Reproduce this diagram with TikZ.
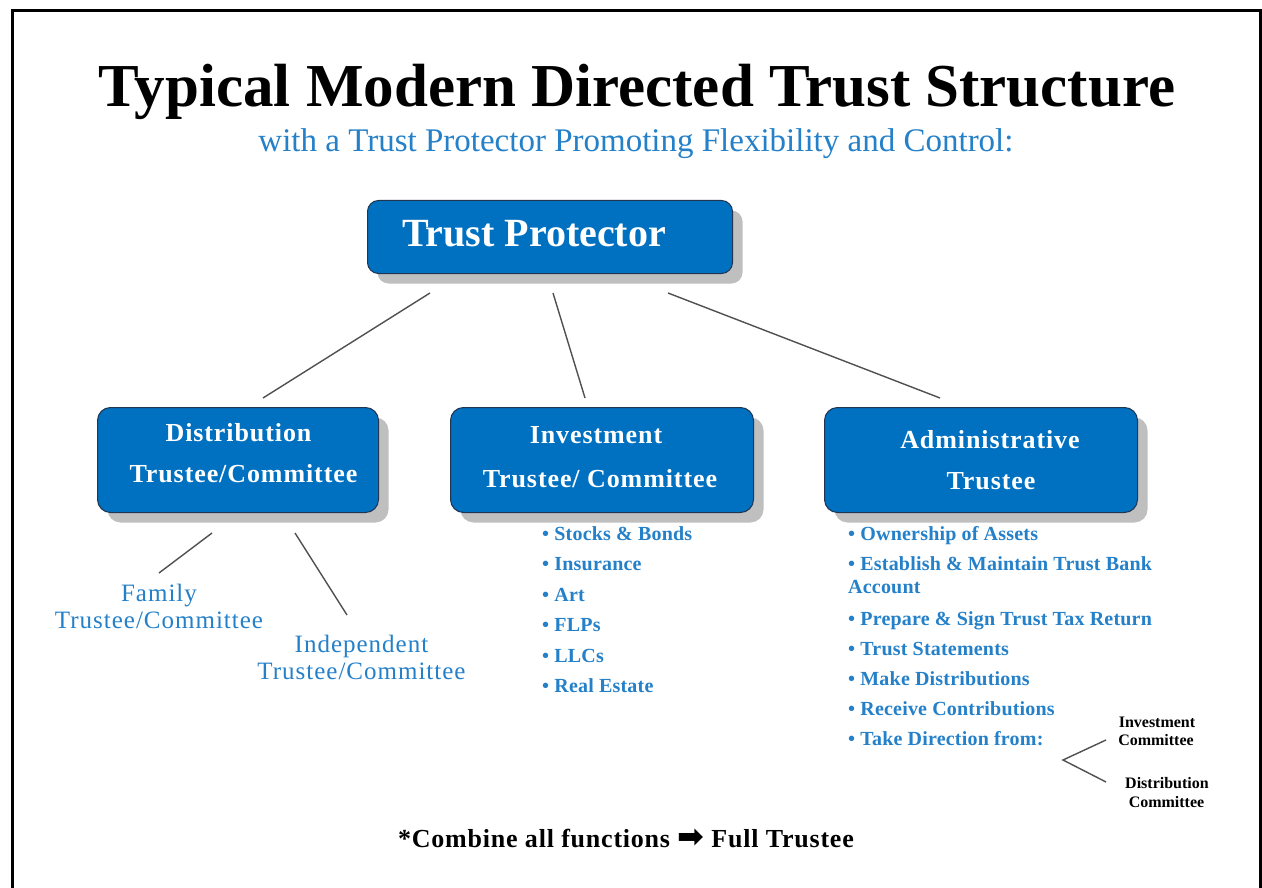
\documentclass[tikz,border=0pt]{standalone}
\usepackage{fontspec}
\setmainfont{Liberation Serif}
\newfontfamily\symfont{DejaVu Sans}
\usetikzlibrary{shadows}
\definecolor{boxblue}{HTML}{0070C0}
\definecolor{boxedge}{HTML}{1F3550}
\definecolor{txtblue}{HTML}{2480C8}
\definecolor{linegray}{HTML}{505050}
\definecolor{shadowgray}{HTML}{BFBFBF}
\tikzset{
  bluebox/.style={draw=boxedge, line width=1pt, fill=boxblue, rounded corners=13pt,
    anchor=north west, inner sep=0pt,
    drop shadow={shadow xshift=10pt, shadow yshift=-10pt, fill=shadowgray, opacity=1}},
  boxtxt/.style={text=white, font=\bfseries\fontsize{26}{26}\selectfont\addfontfeature{LetterSpace=3.5}, anchor=base, inner sep=0pt},
  bul/.style={text=txtblue, font=\bfseries\fontsize{20}{20}\selectfont\addfontfeature{LetterSpace=1}, anchor=base west, inner sep=0pt},
  lab/.style={text=txtblue, font=\fontsize{25}{25}\selectfont\addfontfeature{LetterSpace=4}, anchor=base, inner sep=0pt},
  small/.style={text=black, font=\bfseries\fontsize{16}{16}\selectfont, anchor=base, inner sep=0pt},
  conn/.style={draw=linegray, line width=1.4pt},
}
\begin{document}
\begin{tikzpicture}[x=1pt, y=-1pt]
\useasboundingbox (0,0) rectangle (1262,888);
\fill[white] (0,0) rectangle (1262,888);
% frame
\draw[line width=3pt] (12,888) -- (12,11) -- (1260,11) -- (1260,888);

% titles
\node[anchor=base, inner sep=0pt, font=\bfseries\fontsize{61}{61}\selectfont] (title) at (637,107) {Typical Modern Directed Trust Structure};
\node[anchor=base, inner sep=0pt, text=txtblue, font=\fontsize{33}{33}\selectfont] (subtitle) at (636,152) {with a Trust Protector Promoting Flexibility and Control:};

% boxes
\node[bluebox, rounded corners=11pt, minimum width=365pt, minimum height=73pt] (tp) at (367,200) {};
\node[text=white, font=\bfseries\fontsize{40}{40}\selectfont, anchor=base, inner sep=0pt] (tptxt) at (534,247) {Trust Protector};

\node[bluebox, minimum width=281pt, minimum height=105pt] (dist) at (97,407) {};
\node[boxtxt] (dist1) at (238.5,441) {Distribution};
\node[boxtxt] (dist2) at (243.5,482) {Trustee/Committee};

\node[bluebox, minimum width=303pt, minimum height=105pt] (inv) at (450,407) {};
\node[boxtxt] (inv1) at (596,443) {Investment};
\node[boxtxt] (inv2) at (600,487) {Trustee/ Committee};

\node[bluebox, minimum width=313pt, minimum height=105pt] (adm) at (824,407) {};
\node[boxtxt] (adm1) at (990,448) {Administrative};
\node[boxtxt] (adm2) at (991,489) {Trustee};

% connectors from trust protector
\coordinate (tpa) at (430,293);
\coordinate (tpb) at (553,293);
\coordinate (tpc) at (668,293);
\coordinate (da) at (263,398);
\coordinate (ia) at (585,398);
\coordinate (aa) at (940,398);
\draw[conn] (tpa) -- (da);
\draw[conn] (tpb) -- (ia);
\draw[conn] (tpc) -- (aa);

% distribution sub
\coordinate (d1s) at (212,533);
\coordinate (d1e) at (159,573);
\coordinate (d2s) at (295,533);
\coordinate (d2e) at (347,615);
\draw[conn] (d1s) -- (d1e);
\draw[conn] (d2s) -- (d2e);
\node[lab] (fam1) at (159,601) {Family};
\node[lab] (fam2) at (159,628) {Trustee/Committee};
\node[lab] (ind1) at (361.5,652) {Independent};
\node[lab] (ind2) at (361.5,679) {Trustee/Committee};

% investment bullets
\node[bul] (i1) at (542,540) {• Stocks \& Bonds};
\node[bul] (i2) at (542,570) {• Insurance};
\node[bul] (i3) at (542,601) {• Art};
\node[bul] (i4) at (542,631) {• FLPs};
\node[bul] (i5) at (542,662) {• LLCs};
\node[bul] (i6) at (542,692) {• Real Estate};

% administrative bullets
\node[bul] (a1) at (848,540) {• Ownership of Assets};
\node[bul] (a2) at (848,570) {• Establish \& Maintain Trust Bank};
\node[bul] (a2b) at (848,593) {Account};
\node[bul] (a3) at (848,625) {• Prepare \& Sign Trust Tax Return};
\node[bul] (a4) at (848,655) {• Trust Statements};
\node[bul] (a5) at (848,685) {• Make Distributions};
\node[bul] (a6) at (848,715) {• Receive Contributions};
\node[bul] (a7) at (848,745) {• Take Direction from:};

% direction fork
\coordinate (fv) at (1063,760);
\coordinate (fu) at (1106,740);
\coordinate (fl) at (1106,782);
\draw[conn] (fu) -- (fv) -- (fl);
\node[small] (s1) at (1157,727) {Investment};
\node[small] (s2) at (1156,745) {Committee};
\node[small] (s3) at (1167,788) {Distribution};
\node[small] (s4) at (1166.5,807) {Committee};

% footer
\node[anchor=base, inner sep=0pt, font=\bfseries\fontsize{26}{26}\selectfont\addfontfeature{LetterSpace=3}] (foot) at (626,847) {*Combine all functions {\symfont\fontsize{32}{32}\selectfont\addfontfeature{LetterSpace=0}➡} Full Trustee};
\end{tikzpicture}
\end{document}
